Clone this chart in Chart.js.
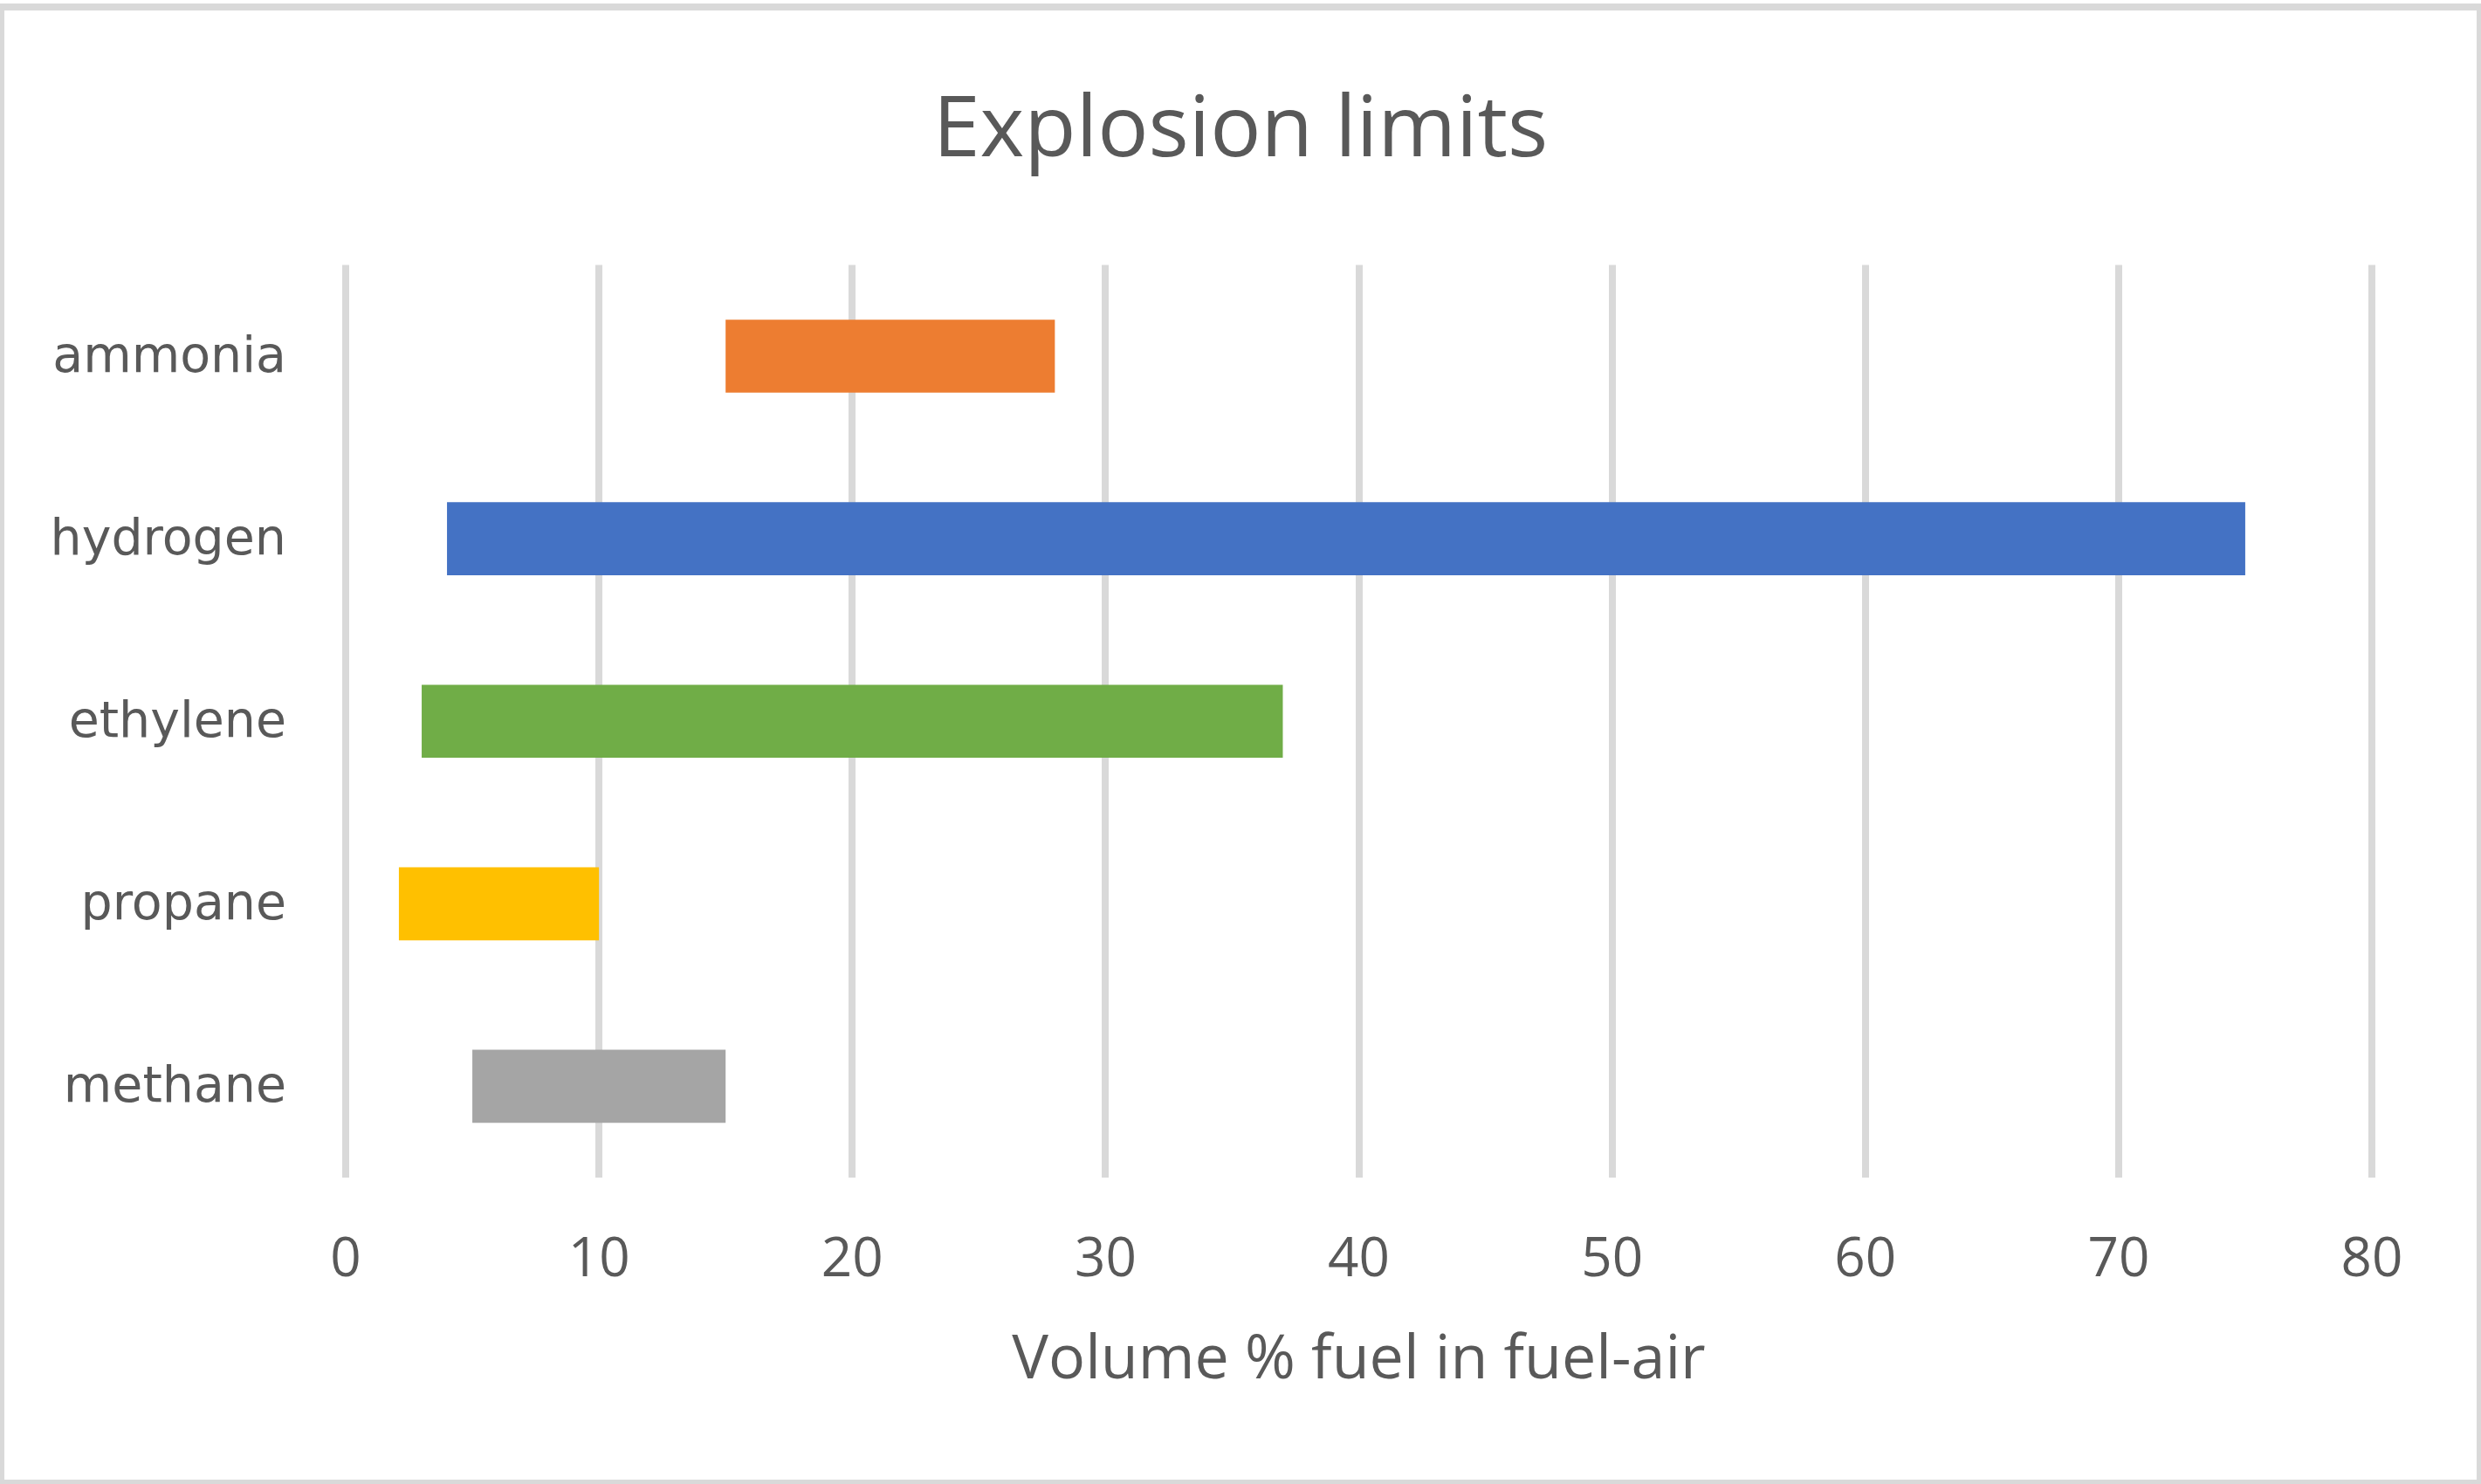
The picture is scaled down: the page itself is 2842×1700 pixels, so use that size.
<!DOCTYPE html>
<html>
<head>
<meta charset="utf-8">
<title>Explosion limits</title>
<script src="https://cdn.jsdelivr.net/npm/chart.js@4/dist/chart.umd.min.js"></script>
<style>
  html, body { margin: 0; padding: 0; background: #ffffff; }
  #wrap { width: 2842px; height: 1700px; position: relative; }
  canvas { display: block; }
</style>
</head>
<body>
<div id="wrap"><canvas id="chart" width="2842" height="1700"></canvas></div>
<script>
// Fuels, listed top to bottom
const fuels = ['ammonia', 'hydrogen', 'ethylene', 'propane', 'methane'];
// Lower and upper explosion limits, volume % fuel in fuel-air
const lowerLimits = [15, 4, 3, 2.1, 5];
const upperLimits = [28, 75, 37, 10, 15];
const barColors = ['#ED7D31', '#4472C4', '#70AD47', '#FFC000', '#A5A5A5'];
const xTicks = [0, 10, 20, 30, 40, 50, 60, 70, 80];

const ranges = fuels.map((_, i) => [lowerLimits[i], upperLimits[i]]);

// White page with a thin grey frame
const framePlugin = {
  id: 'frame',
  beforeDraw(chart) {
    const { ctx, width, height } = chart;
    ctx.save();
    ctx.fillStyle = '#ffffff';
    ctx.fillRect(0, 0, width, height);
    ctx.restore();
  },
  afterDraw(chart) {
    const { ctx, width, height } = chart;
    ctx.save();
    ctx.fillStyle = '#d9d9d9';
    ctx.fillRect(0, 4, width, 8);
    ctx.fillRect(0, 4, 5, height - 4);
    ctx.fillRect(width - 5, 4, 5, height - 4);
    ctx.fillRect(0, height - 5, width, 5);
    ctx.restore();
  }
};

new Chart(document.getElementById('chart'), {
  type: 'bar',
  data: {
    labels: fuels,
    datasets: [{
      label: 'Explosion range',
      data: ranges,
      backgroundColor: barColors,
      borderWidth: 0,
      borderSkipped: false,
      barPercentage: 0.4,
      categoryPercentage: 1.0,
      yAxisID: 'y'
    }]
  },
  options: {
    indexAxis: 'y',
    responsive: false,
    animation: false,
    devicePixelRatio: 1,
    layout: { padding: 0 },
    plugins: {
      legend: { display: false },
      tooltip: { enabled: false },
      title: {
        display: true,
        text: 'Explosion limits',
        color: '#595959',
        font: { family: 'Open Sans', size: 97, weight: 'normal', lineHeight: 1.2 },
        padding: { top: 93, bottom: 94 }
      }
    },
    scales: {
      x: {
        type: 'linear',
        min: 0,
        max: 80,
        afterBuildTicks(scale) {
          scale.ticks = xTicks.map(v => ({ value: v }));
        },
        afterFit(scale) { scale.height = 351; },
        grid: {
          color: '#d9d9d9',
          lineWidth: 8,
          drawTicks: false,
          tickLength: 0
        },
        border: { display: false },
        ticks: {
          color: '#595959',
          padding: 58,
          font: { family: 'Open Sans', size: 62, lineHeight: 1.2 }
        },
        title: {
          display: true,
          text: 'Volume % fuel in fuel-air',
          color: '#595959',
          font: { family: 'Open Sans', size: 70, lineHeight: 1.2 },
          padding: { top: 0, bottom: 99 }
        }
      },
      y: {
        position: 'left',
        afterFit(scale) { scale.width = 396; },
        grid: { display: false, drawTicks: false, tickLength: 0 },
        border: { display: false },
        ticks: {
          color: '#595959',
          padding: 68,
          labelOffset: 3,
          font: { family: 'DejaVu Sans', size: 57, lineHeight: 1.2 }
        }
      },
      // empty right margin so the title stays centred on the page
      yMargin: {
        type: 'category',
        position: 'right',
        labels: fuels,
        afterFit(scale) { scale.width = 125; },
        grid: { display: false, drawTicks: false, tickLength: 0 },
        border: { display: false },
        ticks: { display: false }
      }
    }
  },
  plugins: [framePlugin]
});
</script>
</body>
</html>
